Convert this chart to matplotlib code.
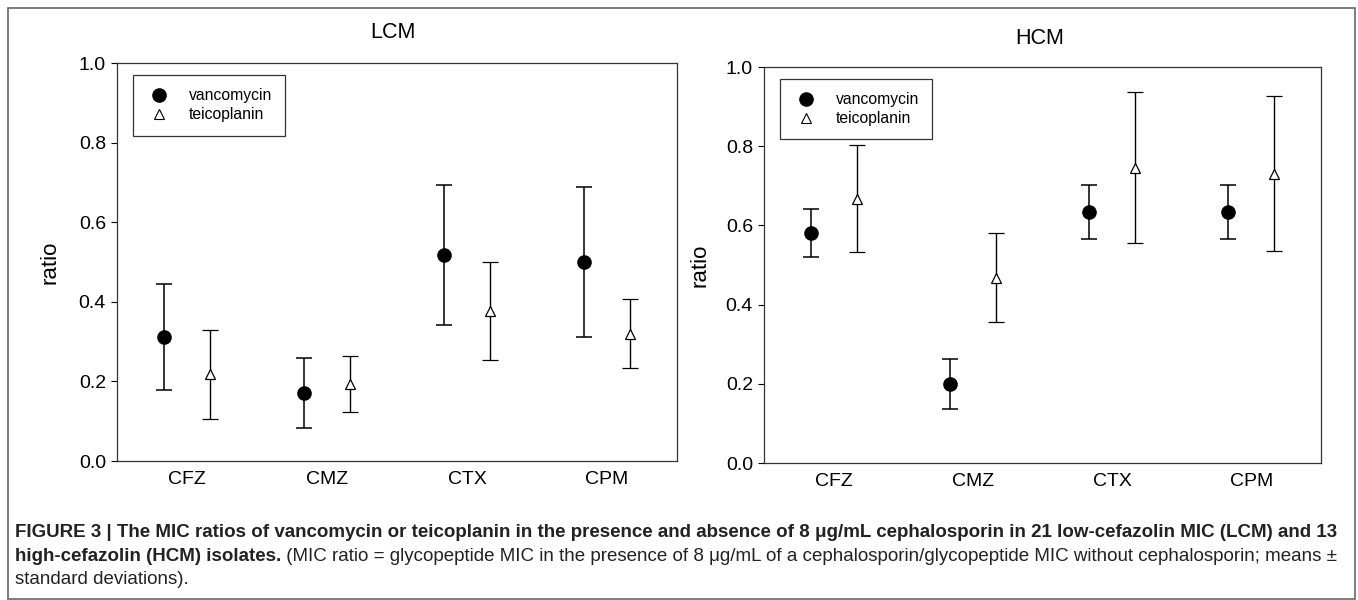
import matplotlib
matplotlib.use("Agg")
import matplotlib.pyplot as plt
from matplotlib.lines import Line2D
from matplotlib.patches import Rectangle
import numpy as np

categories = ["CFZ", "CMZ", "CTX", "CPM"]
antibiotics = ["vancomycin", "teicoplanin"]

lcm_vanc_mean = [0.312, 0.171, 0.517, 0.500]
lcm_vanc_sd = [0.133, 0.088, 0.176, 0.188]
lcm_teic_mean = [0.218, 0.193, 0.377, 0.320]
lcm_teic_sd = [0.112, 0.071, 0.123, 0.087]

hcm_vanc_mean = [0.580, 0.200, 0.634, 0.634]
hcm_vanc_sd = [0.061, 0.063, 0.068, 0.068]
hcm_teic_mean = [0.667, 0.468, 0.746, 0.731]
hcm_teic_sd = [0.135, 0.113, 0.191, 0.195]

yticks = [0.0, 0.2, 0.4, 0.6, 0.8, 1.0]

plt.rcParams['font.family'] = ['Liberation Sans', 'DejaVu Sans']

W, H = 1358, 600
fig = plt.figure(figsize=(W / 100, H / 100), dpi=100)

def fx(px):
    return px / W

def fy(py):
    return 1 - py / H

def panel(rect, vm, vs, tm, ts, title, title_xy, ylab_xy):
    ax = fig.add_axes(rect)
    x = np.arange(len(categories)) + 1
    off = 0.165
    ax.errorbar(x - off, vm, yerr=vs, fmt='o', color='black', ms=9.5,
                elinewidth=1.1, capsize=5.5, capthick=1.1, label=antibiotics[0], zorder=3)
    ax.errorbar(x + off, tm, yerr=ts, fmt='^', color='black', mfc='white', mec='black',
                ms=7, mew=0.9, elinewidth=1.0, capsize=5.5, capthick=1.0,
                label=antibiotics[1], zorder=3)
    ax.set_xlim(0.5, 4.5)
    ax.set_ylim(0, 1.0)
    ax.set_xticks(x)
    ax.set_xticklabels(categories, fontsize=14)
    ax.tick_params(axis='x', length=0, pad=7)
    ax.set_yticks(yticks)
    ax.set_yticklabels([f"{v:.1f}" for v in yticks], fontsize=14)
    ax.tick_params(axis='y', direction='out', length=4, width=0.8, pad=4)
    for s in ax.spines.values():
        s.set_linewidth(0.9)
        s.set_color('#333333')
    handles = [
        Line2D([], [], marker='o', color='black', ls='none', ms=9.5),
        Line2D([], [], marker='^', color='black', mfc='white', ls='none', ms=6.5, mew=0.8),
    ]
    leg = ax.legend(handles, antibiotics, loc='upper left', bbox_to_anchor=(0.0286, 0.97),
                    borderaxespad=0, fontsize=11.3, frameon=True, fancybox=False,
                    edgecolor='black', handlelength=1.6, handletextpad=1.1,
                    borderpad=0.85, labelspacing=0.25)
    leg.get_frame().set_linewidth(0.9)
    fig.text(title_xy[0], title_xy[1], title, fontsize=15.5, ha='center', va='center')
    fig.text(ylab_xy[0], ylab_xy[1], "ratio", fontsize=16, ha='center', va='center', rotation=90)
    return ax

ax1 = panel([fx(117), fy(461), fx(677) - fx(117), fy(63) - fy(461)],
            lcm_vanc_mean, lcm_vanc_sd, lcm_teic_mean, lcm_teic_sd,
            "LCM", (fx(393), fy(33)), (fx(50), fy(262)))
ax2 = panel([fx(764), fy(463), fx(1321) - fx(764), fy(67) - fy(463)],
            hcm_vanc_mean, hcm_vanc_sd, hcm_teic_mean, hcm_teic_sd,
            "HCM", (fx(1040), fy(38)), (fx(700), fy(265)))

# outer frame
fig.add_artist(Rectangle((fx(8), fy(599)), fx(1355) - fx(8), fy(8) - fy(599),
                         transform=fig.transFigure, fill=False, edgecolor='#666666', lw=1.2))

# caption
cap_family = ['Liberation Sans', 'DejaVu Sans']
fig.canvas.draw()
renderer = fig.canvas.get_renderer()

line1 = [("FIGURE 3 | The MIC ratios of vancomycin or teicoplanin in the presence and absence of 8 \u03bcg/mL cephalosporin in 21 low-cefazolin MIC (LCM) and 13", True)]
line2 = [("high-cefazolin (HCM) isolates.", True),
         (" (MIC ratio = glycopeptide MIC in the presence of 8 \u03bcg/mL of a cephalosporin/glycopeptide MIC without cephalosporin; means \u00b1", False)]
line3 = [("standard deviations).", False)]

# fit caption font size to the caption width
probe = fig.text(0, 0, line1[0][0], fontsize=12, family=cap_family, fontweight='bold')
pw = probe.get_window_extent(renderer=renderer).width
probe.remove()
cap_size = 12 * 1328 / pw * 0.99

def put_pieces(pieces, x0, ybase):
    x = x0
    for txt, bold in pieces:
        t = fig.text(x, ybase, txt, fontsize=cap_size, family=cap_family,
                     fontweight='bold' if bold else 'normal', color='#222222',
                     ha='left', va='baseline')
        bb = t.get_window_extent(renderer=renderer)
        x = x + bb.width / W

put_pieces(line1, fx(15), fy(537))
put_pieces(line2, fx(15), fy(561))
put_pieces(line3, fx(15), fy(584))

fig.savefig("out.png", dpi=100)
